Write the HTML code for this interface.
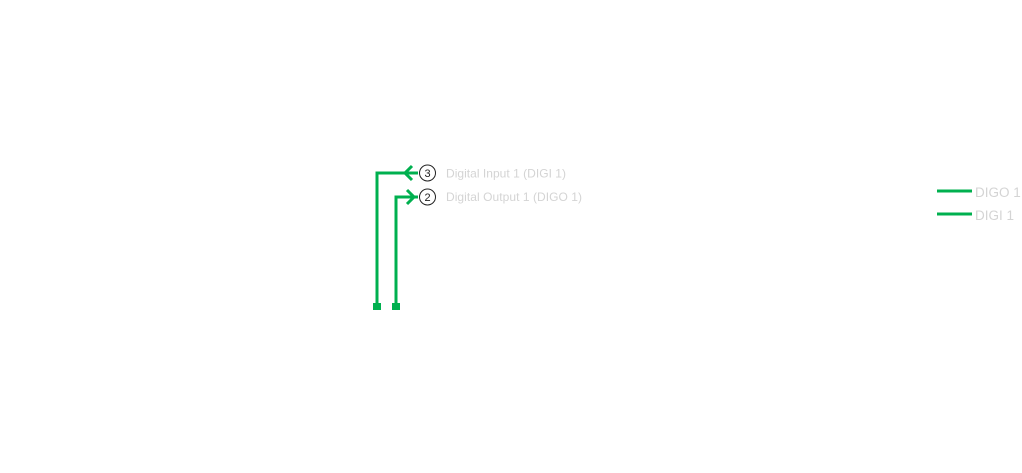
<!DOCTYPE html>
<html><head><style>
body{margin:0;background:#fff;width:1022px;height:468px;overflow:hidden}
text{font-family:"Liberation Sans",sans-serif}
</style></head><body>
<svg width="1022" height="468" viewBox="0 0 1022 468" xmlns="http://www.w3.org/2000/svg">
<g fill="none" stroke="#00b04f" stroke-width="3">
<polyline points="377,305 377,173 418,173"/>
<polyline points="412,166 405,173 412,180"/>
<polyline points="396,305 396,197 418,197"/>
<polyline points="407,190 414,197 407,204"/>
<line x1="937" y1="191" x2="972" y2="191"/>
<line x1="937" y1="214" x2="972" y2="214"/>
</g>
<rect x="373" y="303" width="8" height="7" fill="#00b04f"/>
<rect x="392" y="303" width="8" height="7" fill="#00b04f"/>
<circle cx="427.5" cy="173" r="8" fill="#fff" stroke="#222" stroke-width="1"/>
<circle cx="427.5" cy="197" r="8" fill="#fff" stroke="#222" stroke-width="1"/>
<text x="427.5" y="177" font-size="11" text-anchor="middle" fill="#222">3</text>
<text x="427.5" y="201" font-size="11" text-anchor="middle" fill="#222">2</text>
<text x="446" y="177.5" font-size="12" textLength="120" fill="#d4d4d4">Digital Input 1 (DIGI 1)</text>
<text x="446" y="201" font-size="12" textLength="136" fill="#d4d4d4">Digital Output 1 (DIGO 1)</text>
<text x="975" y="197" font-size="13.5" fill="#d4d4d4">DIGO 1</text>
<text x="975" y="220" font-size="13.5" fill="#d4d4d4">DIGI 1</text>
</svg>
</body></html>
